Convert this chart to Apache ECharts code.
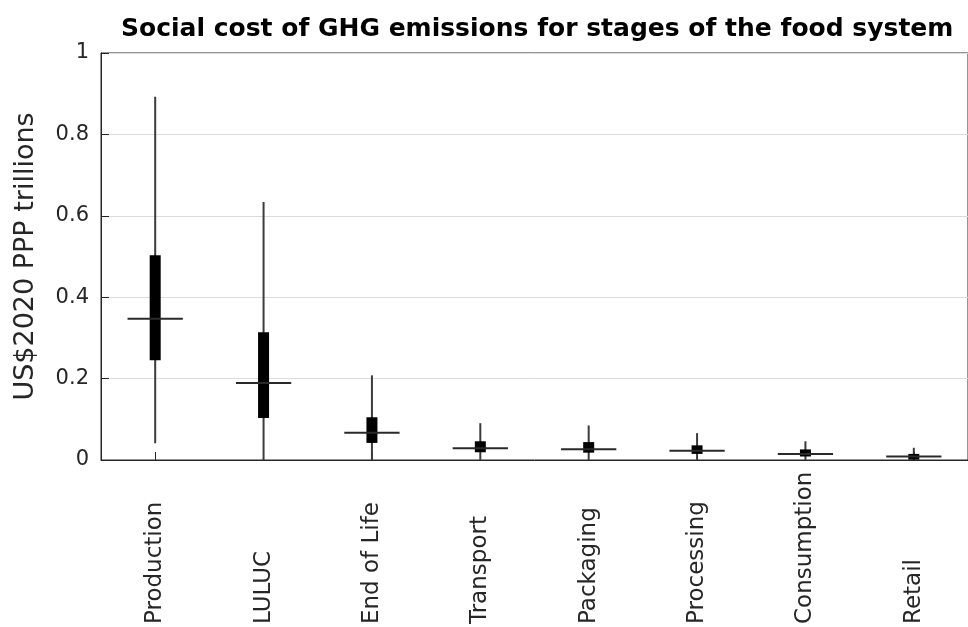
<!DOCTYPE html>
<html>
<head>
<meta charset="utf-8">
<script src="https://cdn.jsdelivr.net/npm/echarts@6/dist/echarts.min.js"></script>
<style>
  html, body { margin: 0; padding: 0; background: #ffffff; }
  #chart { width: 968px; height: 627px; }
</style>
</head>
<body>
<div id="chart"></div>
<script>
// ---- data ----
const categories = ['Production', 'LULUC', 'End of Life', 'Transport', 'Packaging', 'Processing', 'Consumption', 'Retail'];
const whiskerLow  = [0.041, 0.000, 0.000, 0.000, 0.000, 0.000, 0.000, 0.000];
const q1          = [0.245, 0.103, 0.042, 0.019, 0.018, 0.015, 0.0086, 0.001];
const median      = [0.347, 0.189, 0.067, 0.029, 0.0266, 0.023, 0.015, 0.0086];
const q3          = [0.503, 0.314, 0.105, 0.046, 0.044, 0.036, 0.026, 0.015];
const whiskerHigh = [0.8925, 0.634, 0.208, 0.0905, 0.085, 0.066, 0.046, 0.030];
const yTicks = [0, 0.2, 0.4, 0.6, 0.8, 1];

const FONT = 'DejaVu Sans';
const INK = '#262626';

const seriesData = categories.map((c, i) => [i, whiskerLow[i], q1[i], median[i], q3[i], whiskerHigh[i]]);

function renderItem(params, api) {
  const idx = api.value(0);
  const band = api.size([1, 0])[0];
  const pLow = api.coord([idx, api.value(1)]);
  const pQ1 = api.coord([idx, api.value(2)]);
  const pMed = api.coord([idx, api.value(3)]);
  const pQ3 = api.coord([idx, api.value(4)]);
  const pHigh = api.coord([idx, api.value(5)]);
  const x = pMed[0];
  const boxW = 11;
  const medHalf = band * 0.255;
  return {
    type: 'group',
    children: [
      { type: 'line', shape: { x1: x, y1: pLow[1], x2: x, y2: pHigh[1] },
        style: { stroke: '#3c3c3c', lineWidth: 2 } },
      { type: 'rect', shape: { x: x - boxW / 2, y: pQ3[1], width: boxW, height: Math.max(pQ1[1] - pQ3[1], 1) },
        style: { fill: '#000000' } },
      { type: 'line', shape: { x1: x - medHalf, y1: pMed[1], x2: x + medHalf, y2: pMed[1] },
        style: { stroke: '#2a2a2a', lineWidth: 2 } }
    ]
  };
}

const chart = echarts.init(document.getElementById('chart'), null, { renderer: 'canvas' });
chart.setOption({
  animation: false,
  backgroundColor: '#ffffff',
  title: {
    text: 'Social cost of GHG emissions for stages of the food system',
    left: 116,
    top: 12,
    textStyle: { fontFamily: FONT, fontSize: 25, fontWeight: 'bold', color: '#000000' }
  },
  grid: {
    left: 101, right: -11, top: 53, bottom: 167,
    show: true, borderColor: INK, borderWidth: 1, backgroundColor: 'transparent'
  },
  xAxis: {
    type: 'category',
    data: categories,
    boundaryGap: true,
    axisLine: { lineStyle: { color: INK, width: 1 } },
    axisTick: { show: true, inside: true, alignWithLabel: true, length: 8, lineStyle: { color: INK } },
    axisLabel: {
      interval: 0,
      rotate: 90,
      align: 'left',
      verticalAlign: 'middle',
      margin: 164,
      fontFamily: FONT,
      fontSize: 23,
      color: INK
    },
    splitLine: { show: false }
  },
  yAxis: {
    type: 'value',
    min: yTicks[0],
    max: yTicks[yTicks.length - 1],
    interval: 0.2,
    name: 'US$2020 PPP trillions',
    nameLocation: 'middle',
    nameGap: 62,
    nameTextStyle: { fontFamily: FONT, fontSize: 27, color: INK },
    axisLine: { show: true, lineStyle: { color: INK, width: 1 } },
    axisTick: { show: true, inside: true, length: 8, lineStyle: { color: INK } },
    axisLabel: {
      margin: 12,
      fontFamily: FONT,
      fontSize: 21,
      color: INK,
      formatter: function (v) { return String(Math.round(v * 10) / 10); }
    },
    splitLine: { show: true, lineStyle: { color: '#dcdcdc', width: 1 } }
  },
  series: [{
    type: 'custom',
    renderItem: renderItem,
    encode: { x: 0, y: [1, 2, 3, 4, 5] },
    data: seriesData,
    clip: false,
    z: 5
  }]
});
</script>
</body>
</html>
